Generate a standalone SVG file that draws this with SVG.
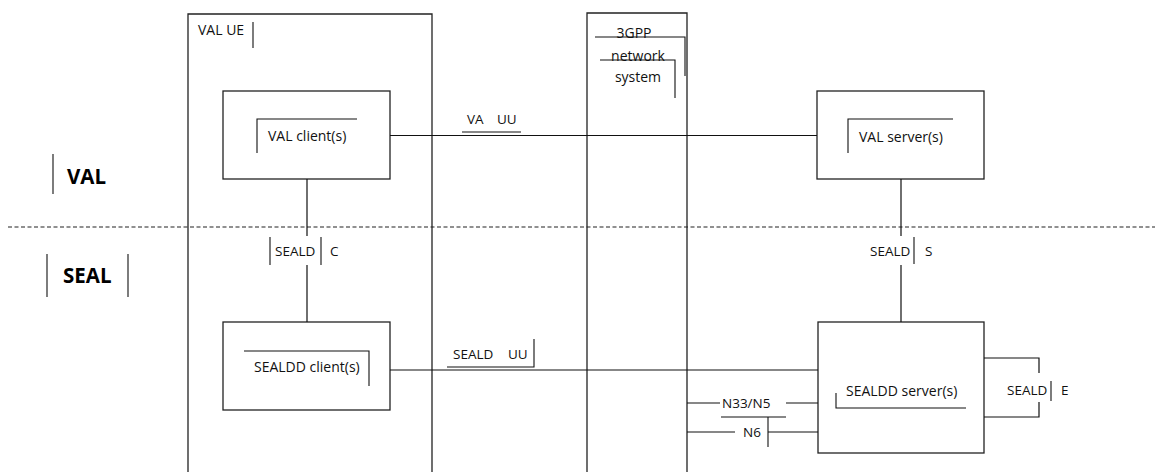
<svg xmlns="http://www.w3.org/2000/svg" width="1155" height="472" viewBox="0 0 1155 472">
<style>
.box{fill:none;stroke:#222;stroke-width:1.3}
.ln{fill:none;stroke:#111;stroke-width:1.2}
.fr{fill:none;stroke:#111;stroke-width:1.1}
.t{font-family:"Open Sans","Liberation Sans",sans-serif;font-size:14px;fill:#111}
.s{font-family:"Open Sans","Liberation Sans",sans-serif;font-size:13.5px;fill:#111}
.b{font-family:"Open Sans","Liberation Sans",sans-serif;font-size:20.5px;font-weight:bold;fill:#000}
</style>
<rect width="1155" height="472" fill="#fff"/>
<g id="layer-labels">
<line class="fr" x1="53" y1="154" x2="53" y2="194"/>
<text class="b" x="67" y="184">VAL</text>
<line x1="8" y1="227" x2="1155" y2="227" stroke="#222" stroke-width="1.2" stroke-dasharray="4,2.5"/>
<line class="fr" x1="47" y1="254" x2="47" y2="297"/>
<text class="b" x="63" y="283">SEAL</text>
<line class="fr" x1="128" y1="254" x2="128" y2="297"/>
</g>
<g id="val-ue">
<path class="box" d="M188,473 V14 H432 V473"/>
<text class="t" x="198" y="35">VAL UE</text>
<line class="fr" x1="253" y1="22" x2="253" y2="48"/>
</g>
<g id="network-3gpp">
<path class="box" d="M587,473 V13 H687 V473"/>
<text class="t" x="634" y="38" text-anchor="middle">3GPP</text>
<path class="fr" d="M595,37 H685 V76"/>
<text class="t" x="638" y="61" text-anchor="middle">network</text>
<path class="fr" d="M600,60 H675 V98"/>
<text class="t" x="638" y="82" text-anchor="middle">system</text>
</g>
<g id="val-client">
<rect class="box" x="223" y="91" width="167" height="88"/>
<path class="fr" d="M257,153 V119 H357"/>
<text class="t" x="268" y="141">VAL client(s)</text>
</g>
<g id="val-server">
<rect class="box" x="817" y="91" width="167" height="88"/>
<path class="fr" d="M848,153 V119 H953"/>
<text class="t" x="859" y="142">VAL server(s)</text>
</g>
<g id="sealdd-client">
<rect class="box" x="223" y="322" width="167" height="88"/>
<path class="fr" d="M244,351 H369 V386"/>
<text class="t" x="254" y="372">SEALDD client(s)</text>
</g>
<g id="sealdd-server">
<rect class="box" x="818" y="322" width="166" height="131"/>
<path class="fr" d="M836,393 V408 H966"/>
<text class="t" x="846" y="396">SEALDD server(s)</text>
</g>
<g id="connectors">
<line class="ln" x1="390" y1="135.5" x2="817" y2="135.5"/>
<text class="s" x="467" y="124">VA</text>
<text class="s" x="497" y="124">UU</text>
<line class="fr" x1="462" y1="132" x2="521" y2="132"/>
<path class="ln" d="M307,179 V236 M307,265 V322"/>
<line class="fr" x1="270" y1="237" x2="270" y2="265"/>
<text class="s" x="275" y="256">SEALD</text>
<line class="fr" x1="321" y1="237" x2="321" y2="265"/>
<text class="s" x="330" y="256">C</text>
<path class="ln" d="M901,179 V236 M901,265 V322"/>
<text class="s" x="870" y="256">SEALD</text>
<line class="fr" x1="914" y1="237" x2="914" y2="264"/>
<text class="s" x="925" y="256">S</text>
<line class="ln" x1="390" y1="370" x2="818" y2="370"/>
<text class="s" x="453" y="359">SEALD</text>
<text class="s" x="508" y="359">UU</text>
<path class="fr" d="M447,367 H534 V339"/>
<path class="ln" d="M687,403 H720 M786,403 H818"/>
<text class="s" x="722" y="407.5">N33/N5</text>
<line class="fr" x1="721" y1="417" x2="786" y2="417"/>
<path class="ln" d="M687,432 H735 M768,432 H818"/>
<text class="s" x="743" y="436.5">N6</text>
<line class="fr" x1="768" y1="417" x2="768" y2="447"/>
<path class="ln" d="M984,358 H1039 V373 M1039,402 V417 H984"/>
<text class="s" x="1007" y="395">SEALD</text>
<line class="fr" x1="1051" y1="381" x2="1051" y2="401"/>
<text class="s" x="1061" y="395">E</text>
</g>
</svg>
